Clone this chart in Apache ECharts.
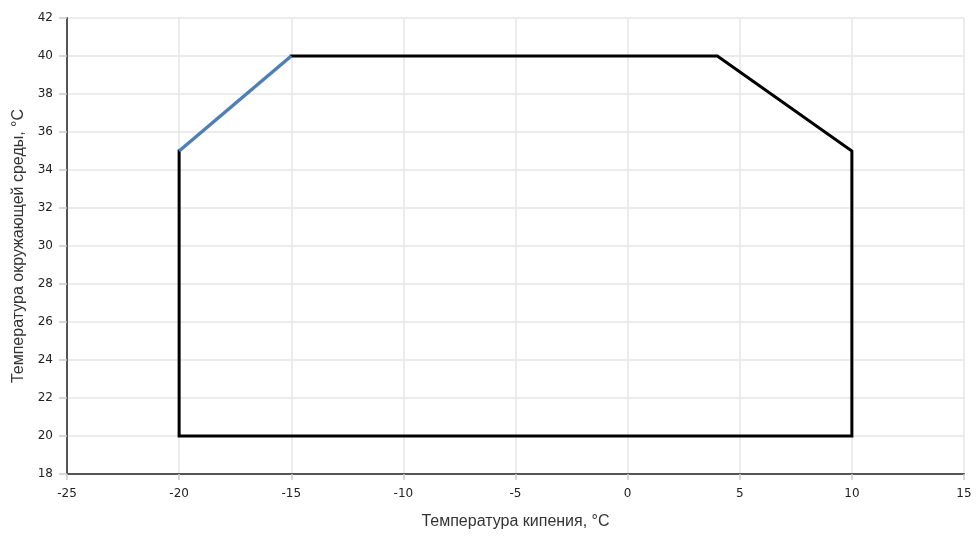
<!DOCTYPE html>
<html><head><meta charset="utf-8">
<script src="https://cdn.jsdelivr.net/npm/echarts@6/dist/echarts.min.js"></script>
<style>html,body{margin:0;padding:0;background:#fff}#c{width:978px;height:536px}</style>
</head><body><div id="c"></div>
<script>
const xName = 'Температура кипения, °C';
const yName = 'Температура окружающей среды, °C';
const envelopeBlack = [[-15,40],[4,40],[10,35],[10,20],[-20,20],[-20,35]];
const envelopeBlue = [[-20,35],[-15,40]];
const xRange = [-25, 15, 5];
const yRange = [18, 42, 2];

const chart = echarts.init(document.getElementById('c'), null, {renderer:'canvas'});
const labelFont = {color:'#222', fontFamily:'DejaVu Sans, Verdana, sans-serif', fontSize:12};
chart.setOption({
  animation:false,
  grid:{left:67, right:14, top:18, bottom:62, containLabel:false, outerBoundsMode:'none'},
  xAxis:{type:'value', min:xRange[0], max:xRange[1], interval:xRange[2],
    name:xName, nameLocation:'middle', nameGap:40,
    nameTextStyle:{fontFamily:'Liberation Sans, Arial, sans-serif', fontSize:16, color:'#333'},
    axisLine:{onZero:false, lineStyle:{color:'#555', width:2}},
    axisTick:{show:true, length:6, lineStyle:{color:'#ccc', width:1.5}},
    axisLabel:Object.assign({margin:14}, labelFont),
    splitLine:{show:true, lineStyle:{color:'#e6e6e6', width:1.5}}},
  yAxis:{type:'value', min:yRange[0], max:yRange[1], interval:yRange[2],
    name:yName, nameLocation:'middle', nameGap:38,
    nameTextStyle:{fontFamily:'Liberation Sans, Arial, sans-serif', fontSize:16, color:'#333'},
    axisLine:{show:true, onZero:false, lineStyle:{color:'#555', width:2}},
    axisTick:{show:true, length:8, lineStyle:{color:'#ccc', width:1.5}},
    axisLabel:Object.assign({margin:14}, labelFont),
    splitLine:{show:true, lineStyle:{color:'#e6e6e6', width:1.5}}},
  series:[
    {type:'line', data:envelopeBlack, showSymbol:false, symbol:'none',
      lineStyle:{color:'#000', width:3, join:'miter', cap:'square'}},
    {type:'line', data:envelopeBlue, showSymbol:false, symbol:'none',
      lineStyle:{color:'#4f7fb5', width:3.5}}
  ]
});
</script></body></html>
